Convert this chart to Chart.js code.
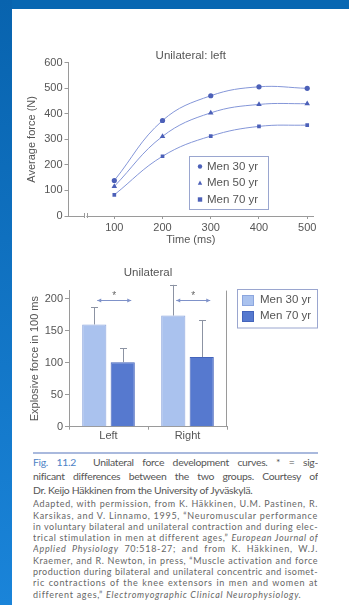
<!DOCTYPE html>
<html>
<head>
<meta charset="utf-8">
<script src="https://cdn.jsdelivr.net/npm/chart.js@4.4.1/dist/chart.umd.min.js"></script>
<style>
  html, body { margin: 0; padding: 0; background: #fff; }
  #page { position: relative; width: 349px; height: 605px; overflow: hidden; background: #fff; }
  #bandTop { position: absolute; left: 0; top: 0; width: 349px; height: 9px; background: #0867b2; }
  #bandLeft { position: absolute; left: 0; top: 0; width: 12px; height: 605px; background: linear-gradient(#0863ae, #1a84d9); }
  canvas { position: absolute; left: 0; }
  #c1 { top: 0; }
  #c2 { top: 250px; }
  #rule { position: absolute; left: 33px; top: 452px; width: 285px; height: 2px; background: #a9b9dd; }
  #caption { position: absolute; left: 33px; top: 456.4px; width: 285px; font-family: Lato, "Open Sans", sans-serif; }
  .l { white-space: nowrap; overflow: hidden; text-align: justify; text-align-last: justify; }
  .end { text-align-last: left; }
  .p1 { font-size: 10.4px; line-height: 13.8px; color: #555; letter-spacing: -0.3px; }
  .p2 { font-size: 9px; line-height: 11.3px; color: #666; margin-top: 0.5px; letter-spacing: 0.72px; }
  .fig { color: #4d82c6; }
</style>
</head>
<body>
<div id="page">
  <div id="bandTop"></div>
  <div id="bandLeft"></div>
  <canvas id="c1" width="349" height="250"></canvas>
  <canvas id="c2" width="349" height="195"></canvas>
  <div id="rule"></div>
  <div id="caption">
    <div class="p1">
      <div class="l"><span class="fig">Fig. 11.2</span>&nbsp; Unilateral force development curves. * = sig-</div>
      <div class="l">nificant differences between the two groups. Courtesy of</div>
      <div class="l end">Dr. Keijo Häkkinen from the University of Jyväskylä.</div>
    </div>
    <div class="p2">
      <div class="l">Adapted, with permission, from K. Häkkinen, U.M. Pastinen, R.</div>
      <div class="l">Karsikas, and V. Linnamo, 1995, “Neuromuscular performance</div>
      <div class="l">in voluntary bilateral and unilateral contraction and during elec-</div>
      <div class="l">trical stimulation in men at different ages,” <i>European Journal of</i></div>
      <div class="l"><i>Applied Physiology</i> 70:518-27; and from K. Häkkinen, W.J.</div>
      <div class="l">Kraemer, and R. Newton, in press, “Muscle activation and force</div>
      <div class="l">production during bilateral and unilateral concentric and isomet-</div>
      <div class="l">ric contractions of the knee extensors in men and women at</div>
      <div class="l end">different ages,” <i>Electromyographic Clinical Neurophysiology.</i></div>
    </div>
  </div>
</div>
<script>
// Average force over time, unilateral left leg
const times = [100, 200, 300, 400, 500];
const men30 = [139, 374, 471, 506, 500];
const men50 = [116, 312, 404, 437, 440];
const men70 = [83, 234, 313, 351, 356];
const timeTicks = [100, 200, 300, 400, 500];
const forceTicks = [0, 100, 200, 300, 400, 500, 600];

// Explosive force in 100 ms, bars with upper error bars
const sides = ['Left', 'Right'];
const young = [160, 174];
const old = [101, 109];
const youngErr = [27, 48];
const oldErr = [22, 58];
const explosiveTicks = [0, 50, 100, 150, 200];

// Tighten caption lines that would run past the column edge
document.querySelectorAll('#caption .l').forEach(el => {
  let ls = parseFloat(getComputedStyle(el).letterSpacing) || 0;
  let guard = 0;
  while (el.scrollWidth > el.clientWidth && guard++ < 40) {
    ls -= 0.05;
    el.style.letterSpacing = ls + 'px';
  }
});

Chart.defaults.font.family = '"Liberation Sans", Arial, sans-serif';
Chart.defaults.font.size = 11;
Chart.defaults.color = '#555';

const AXIS = '#9a9a9a';
const LINE = '#8496d8';
const POINT = '#4c60b8';

function drawMarker(ctx, style, x, y, r) {
  ctx.beginPath();
  if (style === 'circle') {
    ctx.arc(x, y, r, 0, Math.PI * 2);
  } else if (style === 'triangle') {
    ctx.moveTo(x, y - r * 1.1);
    ctx.lineTo(x + r, y + r * 0.8);
    ctx.lineTo(x - r, y + r * 0.8);
    ctx.closePath();
  } else {
    ctx.rect(x - r, y - r, r * 2, r * 2);
  }
  ctx.fill();
}

// Legend box placed inside the plot area of the line chart
const insetLegend = {
  id: 'insetLegend',
  afterDraw(chart, args, opts) {
    const { ctx } = chart;
    const x = opts.x, y = opts.y, w = opts.w, h = opts.h;
    ctx.save();
    ctx.fillStyle = '#fff';
    ctx.fillRect(x, y, w, h);
    ctx.strokeStyle = opts.border;
    ctx.lineWidth = 1;
    ctx.strokeRect(x + 0.5, y + 0.5, w, h);
    ctx.font = opts.font;
    ctx.textBaseline = 'middle';
    chart.data.datasets.forEach((ds, i) => {
      const cy = y + opts.first + i * opts.step;
      if (opts.kind === 'point') {
        ctx.fillStyle = ds.pointBackgroundColor;
        drawMarker(ctx, ds.pointStyle, x + opts.markX, cy, 2.2);
      } else {
        ctx.fillStyle = ds.backgroundColor;
        ctx.fillRect(x + opts.markX - 6, cy - 5, 12, 11);
        ctx.strokeStyle = ds.borderColor;
        ctx.strokeRect(x + opts.markX - 5.5, cy - 4.5, 11, 10);
      }
      ctx.fillStyle = '#555';
      ctx.fillText(ds.label, x + opts.textX, cy);
    });
    ctx.restore();
  }
};

// Break mark on the time axis
const axisBreak = {
  id: 'axisBreak',
  afterDraw(chart, args, opts) {
    const { ctx } = chart;
    const xs = chart.scales.x;
    const px = xs.getPixelForValue(opts.at);
    const py = chart.chartArea.bottom;
    ctx.save();
    ctx.fillStyle = '#fff';
    ctx.fillRect(px - 1, py - 1, 2, 2);
    ctx.strokeStyle = AXIS;
    ctx.lineWidth = 1;
    [px - 1.5, px + 1.5].forEach(lx => {
      ctx.beginPath();
      ctx.moveTo(Math.round(lx) + 0.5, py - 3);
      ctx.lineTo(Math.round(lx) + 0.5, py + 2);
      ctx.stroke();
    });
    ctx.restore();
  }
};

function pts(vals) { return times.map((t, i) => ({ x: t, y: vals[i] })); }
function series(label, vals, style, r) {
  return {
    label, data: pts(vals), pointStyle: style, pointRadius: r,
    borderColor: LINE, borderWidth: 1, tension: 0.4,
    pointBackgroundColor: POINT, pointBorderColor: POINT, pointBorderWidth: 0
  };
}

new Chart(document.getElementById('c1'), {
  type: 'line',
  data: {
    datasets: [
      series('Men 30 yr', men30, 'circle', 2.6),
      series('Men 50 yr', men50, 'triangle', 3.2),
      series('Men 70 yr', men70, 'rect', 2.6)
    ]
  },
  options: {
    responsive: false,
    animation: false,
    layout: { padding: { left: 0, right: 36, top: 0, bottom: 0 } },
    plugins: {
      legend: { display: false },
      tooltip: { enabled: false },
      title: {
        display: true, text: 'Unilateral: left', fullSize: false,
        font: { size: 11.5, weight: 'normal' }, color: '#555',
        padding: { top: 49, bottom: 0 }
      },
      insetLegend: { kind: 'point', x: 189, y: 156, w: 79, h: 53, border: '#9aa6cf', first: 10.5, step: 16.5, markX: 11, textX: 18, font: '11.5px "Liberation Sans", Arial, sans-serif' },
      axisBreak: { at: 40 }
    },
    scales: {
      x: {
        type: 'linear', min: 5, max: 512,
        afterBuildTicks: s => { s.ticks = timeTicks.map(v => ({ value: v })); },
        afterFit: s => { s.height = 34; },
        grid: { drawOnChartArea: false, drawTicks: true, tickLength: 3, color: AXIS },
        border: { color: AXIS },
        ticks: { padding: 2, color: '#555' },
        title: { display: true, text: 'Time (ms)', color: '#555', font: { size: 11 }, padding: { top: 0, bottom: 3 } }
      },
      y: {
        min: 0, max: 600,
        afterBuildTicks: s => { s.ticks = forceTicks.map(v => ({ value: v })); },
        afterFit: s => { s.width = 68.5; },
        grid: { drawOnChartArea: false, drawTicks: true, tickLength: 4, color: AXIS },
        border: { color: AXIS },
        ticks: { padding: 2, color: '#555' },
        title: { display: true, text: 'Average force (N)', color: '#555', font: { size: 11 }, padding: { top: 25.5, bottom: 0 } }
      }
    }
  },
  plugins: [insetLegend, axisBreak]
});

// Error bars above each bar
const errorBars = {
  id: 'errorBars',
  afterDatasetsDraw(chart) {
    const { ctx } = chart;
    const ys = chart.scales.y;
    ctx.save();
    ctx.strokeStyle = '#8c93a3';
    ctx.lineWidth = 1;
    chart.data.datasets.forEach((ds, di) => {
      chart.getDatasetMeta(di).data.forEach((bar, i) => {
        const top = ys.getPixelForValue(ds.data[i] + ds.errors[i]);
        const x = Math.round(bar.x) + 0.5;
        ctx.beginPath();
        ctx.moveTo(x, bar.y);
        ctx.lineTo(x, top);
        ctx.moveTo(x - 3.5, Math.round(top) + 0.5);
        ctx.lineTo(x + 3.5, Math.round(top) + 0.5);
        ctx.stroke();
      });
    });
    ctx.restore();
  }
};

// Significance markers between the two groups
const significance = {
  id: 'significance',
  afterDatasetsDraw(chart, args, opts) {
    const { ctx } = chart;
    const ys = chart.scales.y;
    const a = chart.getDatasetMeta(0).data;
    const b = chart.getDatasetMeta(1).data;
    const y = Math.round(ys.getPixelForValue(opts.level)) + 0.5;
    ctx.save();
    ctx.strokeStyle = '#7f92c9';
    ctx.fillStyle = '#7f92c9';
    ctx.lineWidth = 1;
    a.forEach((bar, i) => {
      const x0 = bar.x + 3, x1 = b[i].x + 8.5;
      ctx.beginPath();
      ctx.moveTo(x0, y); ctx.lineTo(x1, y); ctx.stroke();
      ctx.beginPath();
      ctx.moveTo(x0, y); ctx.lineTo(x0 + 4, y - 2); ctx.lineTo(x0 + 4, y + 2); ctx.closePath(); ctx.fill();
      ctx.beginPath();
      ctx.moveTo(x1, y); ctx.lineTo(x1 - 4, y - 2); ctx.lineTo(x1 - 4, y + 2); ctx.closePath(); ctx.fill();
      ctx.fillStyle = '#666';
      ctx.font = '10px "Liberation Sans", Arial, sans-serif';
      ctx.textAlign = 'center';
      ctx.textBaseline = 'middle';
      ctx.fillText('*', (x0 + x1) / 2, y - 4);
      ctx.fillStyle = '#7f92c9';
    });
    ctx.restore();
  }
};

// Right-hand frame line of the bar plot
const frameRight = {
  id: 'frameRight',
  afterDraw(chart) {
    const { ctx, chartArea } = chart;
    ctx.save();
    ctx.strokeStyle = AXIS;
    ctx.lineWidth = 1;
    const x = Math.round(chartArea.right) - 0.5;
    ctx.beginPath();
    ctx.moveTo(x, chartArea.top);
    ctx.lineTo(x, chartArea.bottom);
    ctx.stroke();
    ctx.restore();
  }
};

new Chart(document.getElementById('c2'), {
  type: 'bar',
  data: {
    labels: sides,
    datasets: [
      { label: 'Men 30 yr', data: young, errors: youngErr, backgroundColor: '#aac2ee', borderColor: '#8ca6de', borderWidth: 1, categoryPercentage: 0.72, barPercentage: 0.85 },
      { label: 'Men 70 yr', data: old, errors: oldErr, backgroundColor: '#5679cf', borderColor: '#4464bb', borderWidth: 1, categoryPercentage: 0.72, barPercentage: 0.85 }
    ]
  },
  options: {
    responsive: false,
    animation: false,
    layout: { padding: { left: 0, right: 122, top: 0, bottom: 0 } },
    plugins: {
      legend: { display: false },
      tooltip: { enabled: false },
      title: {
        display: true, text: 'Unilateral', fullSize: false,
        font: { size: 11.5, weight: 'normal' }, color: '#555',
        padding: { top: 16, bottom: 10.8 }
      },
      insetLegend: { kind: 'box', x: 237, y: 39, w: 80, h: 38.5, border: '#9aa6cf', first: 11, step: 16, markX: 11, textX: 23, font: '11.5px "Liberation Sans", Arial, sans-serif' },
      significance: { level: 199 }
    },
    scales: {
      x: {
        afterFit: s => { s.height = 18.3; },
        grid: { offset: true, drawOnChartArea: false, drawTicks: true, tickLength: 3, color: AXIS },
        border: { color: AXIS },
        ticks: { padding: 0, color: '#555' }
      },
      y: {
        min: 0, max: 213,
        afterBuildTicks: s => { s.ticks = explosiveTicks.map(v => ({ value: v })); },
        afterFit: s => { s.width = 69; },
        grid: { drawOnChartArea: false, drawTicks: true, tickLength: 4, color: AXIS },
        border: { color: AXIS },
        ticks: { padding: 2, color: '#555' },
        title: { display: true, text: 'Explosive force in 100 ms', color: '#555', font: { size: 11 }, padding: { top: 28, bottom: 0 } }
      }
    }
  },
  plugins: [errorBars, significance, frameRight, insetLegend]
});
</script>
</body>
</html>
